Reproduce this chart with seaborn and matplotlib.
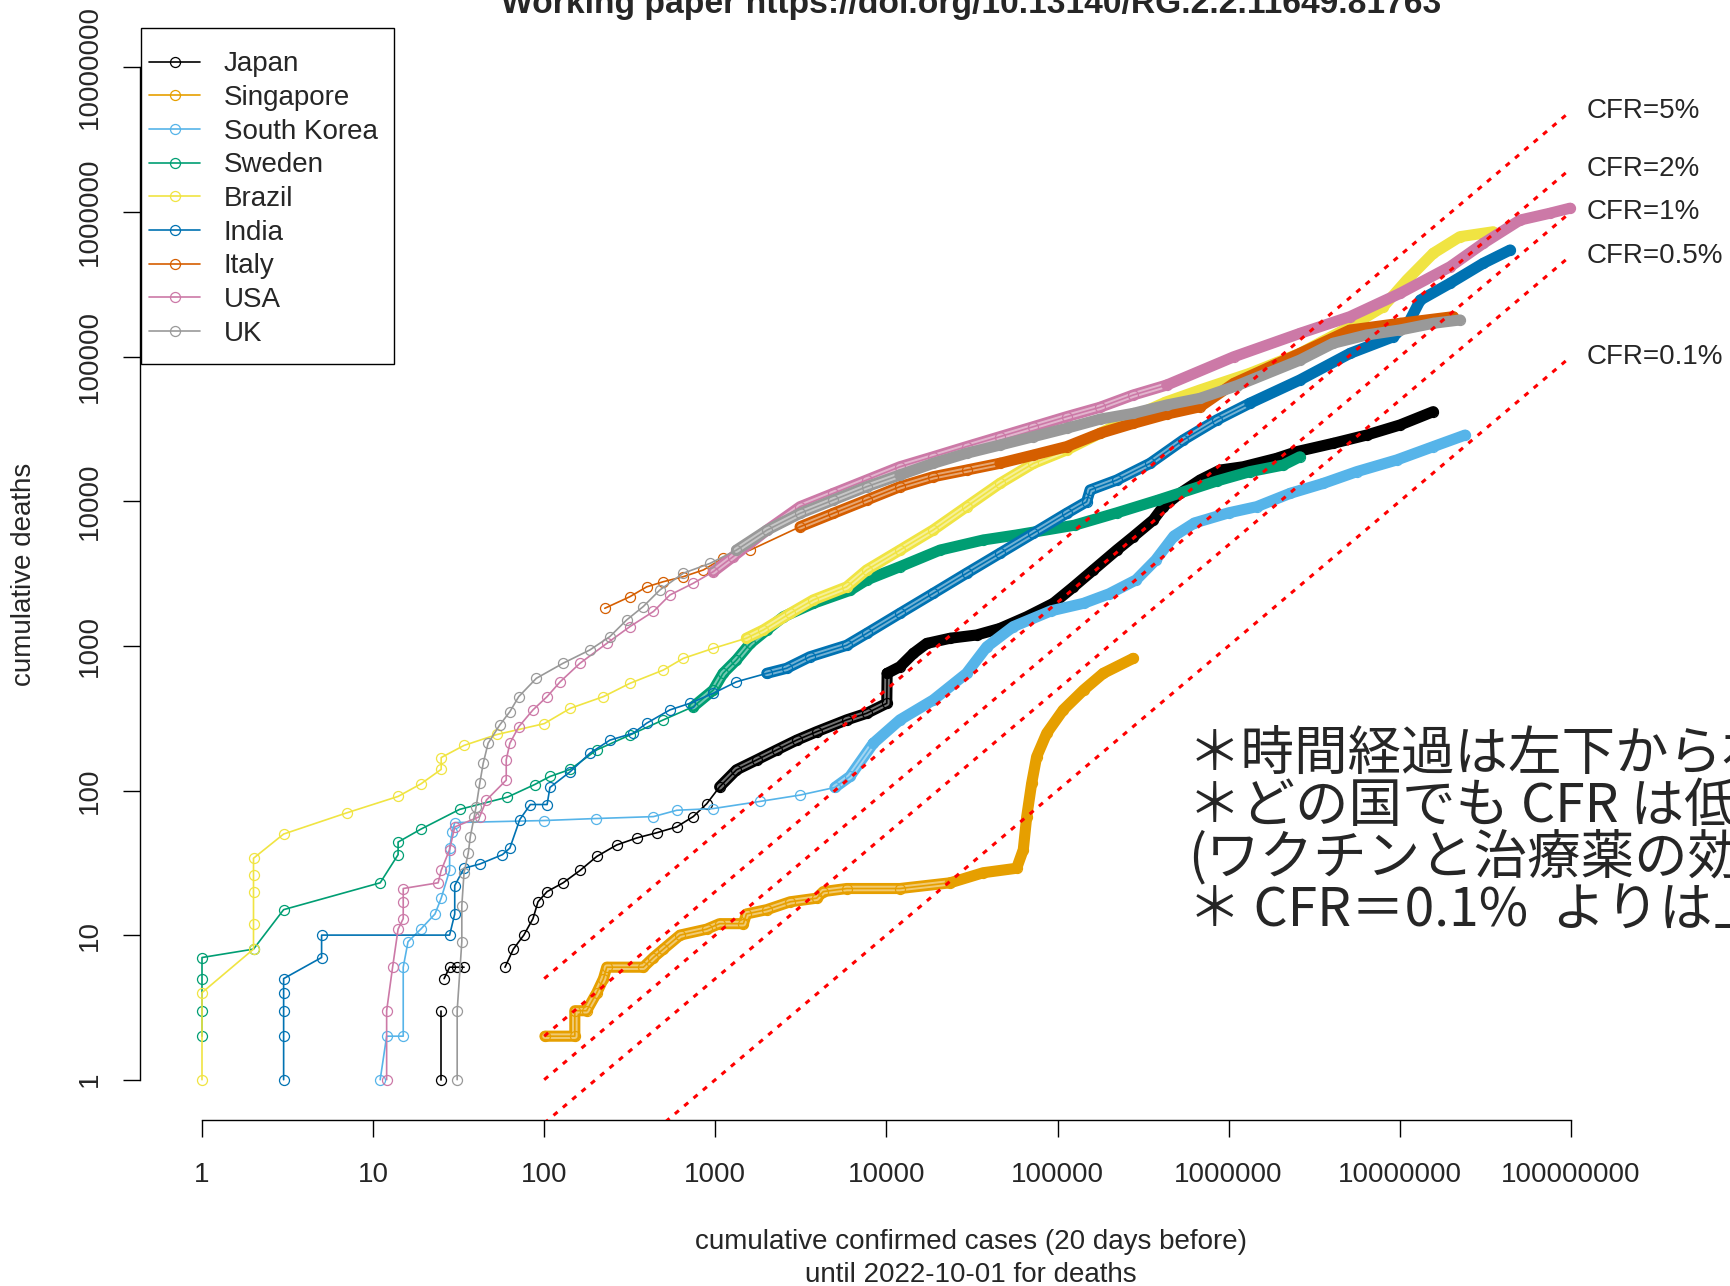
import numpy as np
import matplotlib
matplotlib.use("Agg")
import matplotlib.pyplot as plt
from matplotlib.lines import Line2D
from matplotlib.patches import Rectangle
from matplotlib.ticker import NullLocator
import seaborn as sns

nan = np.nan

# cumulative confirmed cases (20 days before) vs cumulative deaths
japan_cases = [25, 25, nan, 26, 28, 31, 34, nan, 59, 66, 76, 86, 92, 104, 129, 162, 203, 265, 348, 454, 594, 743, 891, 1060,
               1330, 1750, 2290, 2990, 3910, 5860, 7670, 10050, 10100, 12000, 14400, 17200, 23600, 33700, 46100, 66100, 94600,
               124000, 162000, 222000, 277000, 363000, 415000, 520000, 681000, 891000,
               1220000, 1910000, 2500000, 4090000, 6410000, 10050000, 15700000]
japan_deaths = [1, 3, nan, 5, 6, 6, 6, nan, 6, 8, 10, 13, 17, 20, 23, 28, 35, 42, 47, 51, 56, 66, 81, 106,
                139, 163, 191, 223, 255, 308, 342, 401, 646, 718, 889, 1040, 1130, 1190, 1320, 1590, 1970,
                2560, 3350, 4600, 5690, 7430, 9180, 11350, 14030, 16440,
                17340, 19820, 22030, 25180, 28710, 33730, 41690]

singapore_cases = [101, 151, 151, 177, 203, 222, 232, 380, 435, 497, 622, 891, 1060, 1460, 1520, 2000, 2740, 3910, 4280, 5860,
                   12000, 23600, 36800, 57700, 63100, 66100, 70600, 75500, 86500, 108000, 142000, 185000, 277000]
singapore_deaths = [2, 2, 3, 3, 4, 5, 6, 6, 7, 8, 10, 11, 12, 12, 14, 15, 17, 18, 20, 21,
                    21, 23, 27, 29, 39, 66, 112, 171, 249, 361, 495, 646, 820]

korea_cases = [11, 12, 15, 15, 16, 19, 23, 25, 28, 28, 29, 30, 100, 200, 435, 595, 973, 1820, 3130, 5000,
               6120, 8380, 12000, 18800, 29400, 38600, 55200, 92000, 142000, 200000,
               288000, 375000, 479000, 631000, 1000000, 1460000, 2290000, 3580000, 5610000, 9620000, 15700000, 24100000]
korea_deaths = [1, 2, 2, 6, 9, 11, 14, 18, 28, 40, 52, 60, 62, 64, 66, 73, 75, 84, 93, 105,
                125, 212, 308, 423, 646, 986, 1360, 1750, 1970, 2290,
                2860, 3930, 5750, 7080, 8320, 9180, 11350, 13300, 16030, 19320, 23880, 28710]

sweden_cases = [1, 1, 1, 1, 2, 3, 11, 14, 14, 19, 32, 61, 88, 108, 142, 203, 317, 497, 743, 973,
                1110, 1330, 1600, 2000, 2500, 3740, 6120, 7670, 12000, 20600,
                36800, 57700, 126000, 222000, 389000, 851000, 1330000, 2090000, 2610000]
sweden_deaths = [2, 3, 5, 7, 8, 15, 23, 36, 44, 54, 74, 90, 110, 125, 140, 191, 242, 308, 380, 495,
                 646, 800, 1040, 1290, 1590, 1970, 2420, 2860, 3530, 4600,
                 5400, 5850, 6840, 8320, 10210, 13800, 16030, 17820, 20320]

brazil_cases = [1, 1, 2, 2, 2, 2, 2, 3, 7, 14, 19, 25, 25, 34, 53, 100, 142, 222, 317, 497,
                650, 973, 1520, 1910, 2740, 3740, 5860, 7670, 12000, 18800,
                29400, 46100, 72300, 113000, 177000, 277000, 427000, 681000, 1330000, 2610000,
                5120000, 8020000, 11000000, 15700000, 22500000, 35200000]
brazil_deaths = [1, 4, 8, 12, 20, 26, 34, 50, 70, 91, 111, 140, 169, 205, 244, 290, 370, 446, 551, 681,
                 820, 962, 1130, 1290, 1680, 2080, 2560, 3350, 4600, 6340,
                 9180, 13300, 18280, 22650, 29510, 38460, 48420, 58880, 76740, 105400,
                 161100, 221800, 338800, 518800, 676100, 731100]

india_cases = [3, 3, 3, 3, 3, 5, 5, 28, 30, 30, 34, 42, 57, 63, 72, 83, 104, 108, 142, 185,
               242, 331, 397, 543, 711, 973, 1330, 2000, 2610, 3570,
               5860, 7670, 12000, 18800, 29400, 46100, 72300, 113000, 148000, 155000,
               222000, 348000, 543000, 851000, 1330000, 2610000, 5120000, 9180000, 11500000, 13200000,
               19700000, 30800000, 44200000]
india_deaths = [1, 2, 3, 4, 5, 7, 10, 10, 14, 22, 29, 31, 36, 40, 63, 80, 80, 105, 135, 181,
                223, 249, 292, 361, 401, 470, 565, 646, 700, 841,
                1010, 1220, 1680, 2310, 3180, 4370, 6010, 8260, 9930, 11970,
                14030, 18320, 26550, 36480, 47640, 69020, 105400, 137400, 179500, 246600,
                322100, 442600, 547000]

italy_cases = [226, 317, 397, 497, 650, 851, 1110, 1600, 3130, 4900,
               7670, 12000, 18800, 29400, 46100, 72300, 113000, 177000, 277000, 435000,
               681000, 1070000, 2610000, 5120000, 10050000, 20600000]
italy_deaths = [1820, 2190, 2560, 2780, 3010, 3350, 4040, 4600, 6670, 8260,
                10210, 12620, 14790, 16440, 18320, 20890, 23880, 29510, 34590, 40090,
                45080, 65310, 105400, 152800, 170200, 189200]

usa_cases = [12, 12, 13, 14, 15, 15, 15, 24, 25, 28, 30, 42, 46, 60, 60, 63, 71, 86, 104, 124,
             162, 232, 317, 435, 543, 743, 973, 1270, 2000, 3130,
             4900, 7670, 12000, 18800, 29400, 46100, 72300, 113000, 177000, 277000,
             435000, 1070000, 2610000, 5120000, 10050000, 19700000, 30800000, 50500000, 75500000, 98900000]
usa_deaths = [1, 3, 6, 11, 13, 17, 21, 23, 28, 39, 56, 66, 86, 118, 163, 212, 276, 361, 446, 565,
              759, 1040, 1360, 1730, 2250, 2710, 3260, 4140, 6310, 9180,
              11350, 14030, 17340, 20320, 23880, 27990, 32810, 38460, 44670, 54330,
              63680, 99770, 144900, 189200, 274200, 418800, 608100, 881000, 982000, 1064000]

uk_cases = [31, 31, 33, 33, 34, 36, 37, 39, 40, 42, 44, 47, 55, 63, 71, 90, 129, 185, 242, 303,
            379, 475, 650, 931, 1330, 2000, 3130, 4900, 7670, 12000,
            18800, 29400, 46100, 72300, 113000, 177000, 277000, 435000, 681000, 1120000,
            2610000, 4090000, 6410000, 10050000, 15700000, 22500000]
uk_deaths = [1, 3, 9, 16, 27, 37, 48, 66, 77, 112, 154, 212, 284, 351, 446, 597, 759, 938, 1160, 1510,
             1870, 2440, 3180, 3720, 4600, 6310, 8260, 10210, 12620, 15210,
             18320, 21480, 24490, 27990, 31990, 36980, 40550, 46340, 51520, 63100,
             94620, 123900, 141300, 153100, 170200, 179500]

countries = ["Japan", "Singapore", "South Korea", "Sweden", "Brazil", "India", "Italy", "USA", "UK"]
series = [(japan_cases, japan_deaths), (singapore_cases, singapore_deaths), (korea_cases, korea_deaths),
          (sweden_cases, sweden_deaths), (brazil_cases, brazil_deaths), (india_cases, india_deaths),
          (italy_cases, italy_deaths), (usa_cases, usa_deaths), (uk_cases, uk_deaths)]
colors = ["#000000", "#E69F00", "#56B4E9", "#009E73", "#F0E442", "#0072B2", "#D55E00", "#CC79A7", "#999999"]
# where the daily circles start to overlap (chain) and where they merge into a solid band
chain_from = [1000, 100, 5000, 500, 1500, 2000, 2000, 800, 1000]
band_from = [10100, 20000, 8000, 3000, 100000, 1000000, 30000, 300000, 8000]

cfr_values = [0.05, 0.02, 0.01, 0.005, 0.001]
cfr_labels = ["CFR=5%", "CFR=2%", "CFR=1%", "CFR=0.5%", "CFR=0.1%"]
cfr_range = [100, 1e8]

x_ticks = [1, 10, 100, 1000, 10000, 100000, 1000000, 10000000, 100000000]
y_ticks = [1, 10, 100, 1000, 10000, 100000, 1000000, 10000000]

note_lines = ["＊時間経過は左下から右上へ", "＊どの国でも CFR は低下", "(ワクチンと治療薬の効果)", "＊ CFR＝0.1%  よりは上"]

sns.set_theme(style="white")
plt.rcParams['font.family'] = ['Liberation Sans', 'DejaVu Sans']

W, H = 1731, 1286
fig = plt.figure(figsize=(W / 100, H / 100), dpi=100)
ax = fig.add_axes([140.4 / W, (H - 1120.2) / H, (1803.5 - 140.4) / W, (1120.2 - 27.0) / H])
ax.set_xscale('log')
ax.set_yscale('log')

for (cases, deaths), col, c0, b0 in zip(series, colors, chain_from, band_from):
    c = np.asarray(cases, float)
    d = np.asarray(deaths, float)
    i_chain = int(np.argmax(c >= c0))
    i_band = int(np.argmax(c >= b0))
    # overlapping rings: hollow tube
    sns.lineplot(x=c[i_chain:i_band + 1], y=d[i_chain:i_band + 1], sort=False, estimator=None, color=col,
                 linewidth=8, solid_capstyle='round', solid_joinstyle='round', ax=ax)
    sns.lineplot(x=c[i_chain:i_band + 1], y=d[i_chain:i_band + 1], sort=False, estimator=None, color='white',
                 alpha=0.45, linewidth=4, solid_capstyle='round', solid_joinstyle='round', ax=ax)
    # merged circles: solid band
    sns.lineplot(x=c[i_band:], y=d[i_band:], sort=False, estimator=None, color=col, linewidth=8,
                 solid_capstyle='round', solid_joinstyle='round', ax=ax)
    breaks = np.where(np.isnan(c))[0]
    starts = np.r_[0, breaks + 1]
    ends = np.r_[breaks, len(c)]
    for s, e in zip(starts, ends):
        sns.lineplot(x=c[s:e], y=d[s:e], sort=False, estimator=None, color=col, linewidth=1.2,
                     marker='o', markersize=7.2, markerfacecolor='none', markeredgecolor=col,
                     markeredgewidth=0.9, ax=ax)

for cfr, lab in zip(cfr_values, cfr_labels):
    ax.plot(cfr_range, [cfr * v for v in cfr_range], color='#FF0000', lw=2.2,
            linestyle=(0, (1.7, 2.3)), zorder=5)
    ax.text(10 ** 8.09, cfr * cfr_range[1], lab, ha='left', va='center', fontsize=20, clip_on=False)

ax.set_xlim(10 ** -0.36, 10 ** 9.36)
ax.set_ylim(10 ** -0.28, 10 ** 7.28)
ax.set_xticks(x_ticks)
ax.set_xticklabels([str(v) for v in x_ticks])
ax.set_yticks(y_ticks)
ax.set_yticklabels([str(v) for v in y_ticks], rotation=90, va='center')
ax.xaxis.set_minor_locator(NullLocator())
ax.yaxis.set_minor_locator(NullLocator())
ax.tick_params(axis='both', direction='out', length=12, width=1, color='black', labelsize=20,
               bottom=True, left=True)
ax.tick_params(axis='x', pad=18)
ax.tick_params(axis='y', pad=15)
ax.set_xlabel('')
ax.set_ylabel('')
for side in ['top', 'right']:
    ax.spines[side].set_visible(False)
ax.spines['bottom'].set_bounds(1, 1e8)
ax.spines['left'].set_bounds(1, 1e7)
for side in ['bottom', 'left']:
    ax.spines[side].set_color('black')
    ax.spines[side].set_linewidth(1)
ax.grid(False)

# legend: R style box with a roomy top/bottom margin
handles = [Line2D([], [], color=col, lw=1.2, marker='o', markersize=7.2, markerfacecolor='none',
                  markeredgecolor=col, markeredgewidth=0.9) for col in colors]
leg = ax.legend(handles, countries, loc='upper left', bbox_to_anchor=(149 / W, 1 - 51.3 / H),
                bbox_transform=fig.transFigure, borderaxespad=0, borderpad=0, frameon=False, fontsize=20,
                handlelength=1.85, handletextpad=0.85, labelspacing=0.277)
fig.patches.append(Rectangle((141 / W, 1 - 364 / H), 253 / W, 336.4 / H, transform=fig.transFigure,
                             fill=False, edgecolor='black', linewidth=1, zorder=10))

fig.text(971 / W, 1 - 13 / H, "Working paper https://doi.org/10.13140/RG.2.2.11649.81763",
         ha='center', va='baseline', fontsize=24.2, fontweight='bold')
fig.text(971 / W, 1 - 1242 / H, "cumulative confirmed cases (20 days before)", ha='center', va='center', fontsize=20)
fig.text(971 / W, 1 - 1275 / H, "until 2022-10-01 for deaths", ha='center', va='center', fontsize=20)
fig.text(24 / W, 1 - 574 / H, "cumulative deaths", ha='center', va='center', rotation=90, fontsize=20)

for i, line in enumerate(note_lines):
    fig.text(1188 / W, 1 - (754 + 52 * i) / H, line, ha='left', va='center', fontsize=38.5,
             family=['Noto Sans CJK JP', 'DejaVu Sans'])

fig.savefig('out.png', dpi=100)
